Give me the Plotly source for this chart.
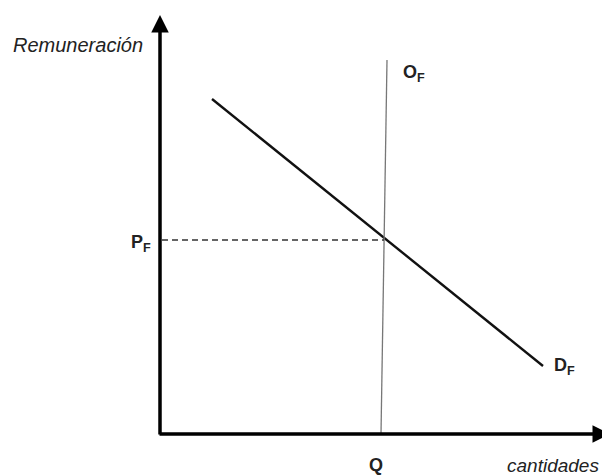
import plotly.graph_objects as go

# Model coordinates (origin at axes corner)
demand_x = [52, 383]
demand_y = [335, 68]
supply_x = [227, 221]
supply_y = [374, 0]
eq_q = 224
eq_p = 194
axis_y_top = 419
axis_x_end = 450

labels = ["Remuneración", "O<sub>F</sub>", "P<sub>F</sub>", "D<sub>F</sub>", "Q", "cantidades"]
label_x = [-82, 254, -19, 404, 216, 393]
label_y = [389, 361, 191, 68, -31, -31]

fig = go.Figure()
fig.add_trace(go.Scatter(x=demand_x, y=demand_y, mode="lines",
                         line=dict(color="#111111", width=2.4), hoverinfo="skip"))
fig.add_trace(go.Scatter(x=supply_x, y=supply_y, mode="lines",
                         line=dict(color="#777777", width=1.3), hoverinfo="skip"))
fig.add_trace(go.Scatter(x=[2, eq_q], y=[eq_p, eq_p], mode="lines",
                         line=dict(color="#333333", width=1.6, dash="6px,4px"), hoverinfo="skip"))

# axes with arrows
fig.add_annotation(x=0, y=axis_y_top, ax=0, ay=-2, xref="x", yref="y", axref="x", ayref="y",
                   text="", showarrow=True, arrowhead=2, arrowsize=1.0, arrowwidth=3.5, arrowcolor="#000")
fig.add_annotation(x=axis_x_end, y=0, ax=-2, ay=0, xref="x", yref="y", axref="x", ayref="y",
                   text="", showarrow=True, arrowhead=2, arrowsize=1.0, arrowwidth=3.5, arrowcolor="#000")

sizes = [20, 18, 18, 18, 18, 19]
styles = ["italic", "normal", "normal", "normal", "normal", "italic"]
weights = ["normal", "bold", "bold", "bold", "bold", "normal"]
for t, lx, ly, sz, st, w in zip(labels, label_x, label_y, sizes, styles, weights):
    fig.add_annotation(x=lx, y=ly, xref="x", yref="y", text=t, showarrow=False,
                       font=dict(family="Liberation Sans, Arial", size=sz, color="#222",
                                 style=st, weight=w))

# page body has an 8px margin, so the plot area is offset by 8px
fig.update_xaxes(range=[-152, 458], visible=False)
fig.update_yaxes(range=[-50, 426], visible=False)
fig.update_layout(width=610, height=476, margin=dict(l=0, r=0, t=0, b=0),
                  plot_bgcolor="white", paper_bgcolor="white", showlegend=False)
fig.write_html("out.html")
